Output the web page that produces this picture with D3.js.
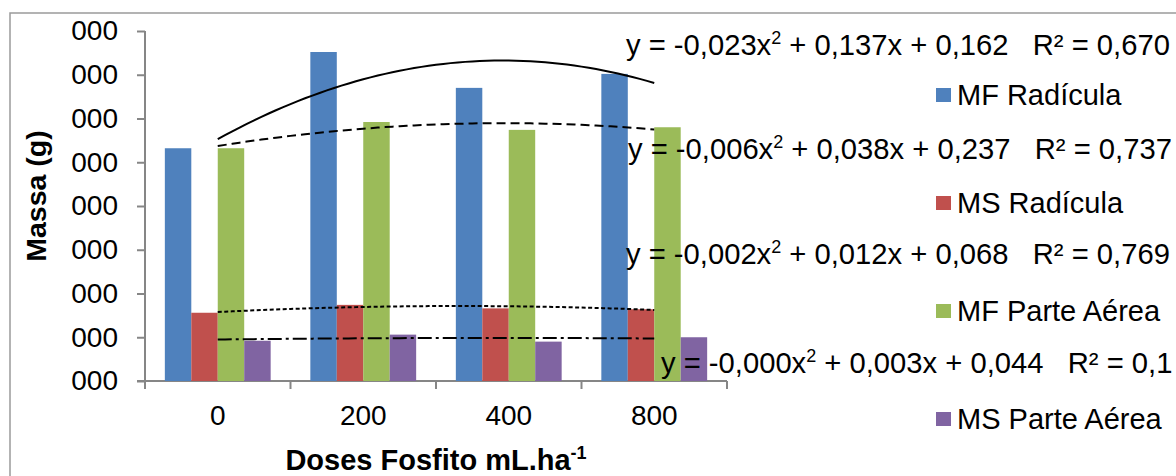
<!DOCTYPE html>
<html>
<head>
<meta charset="utf-8">
<script src="https://cdn.jsdelivr.net/npm/d3@7"></script>
<style>
  body { margin: 0; background: #fff; }
  text { font-family: Arial, "Liberation Sans", sans-serif; fill: #000; }
</style>
</head>
<body>
<div id="chart"></div>
<script>
// data
const doses = ["0", "200", "400", "800"];
const seriesNames = ["MF Radícula", "MS Radícula", "MF Parte Aérea", "MS Parte Aérea"];
const mfRadicula = [0.266, 0.376, 0.335, 0.351];
const msRadicula = [0.078, 0.087, 0.083, 0.082];
const mfAerea = [0.266, 0.296, 0.287, 0.290];
const msAerea = [0.046, 0.053, 0.045, 0.050];
const yTicks = [0, 0.05, 0.1, 0.15, 0.2, 0.25, 0.3, 0.35, 0.4];
const yTickLabels = ["000", "000", "000", "000", "000", "000", "000", "000", "000"];
// trend equation labels: [before superscript, superscript, after]
const eqMfRad = ["y = -0,023x", "2", " + 0,137x + 0,162   R² = 0,670"];
const eqMfAer = ["y = -0,006x", "2", " + 0,038x + 0,237   R² = 0,737"];
const eqMsRad = ["y = -0,002x", "2", " + 0,012x + 0,068   R² = 0,769"];
const eqMsAer = ["y = -0,000x", "2", " + 0,003x + 0,044   R² = 0,1"];

const series = [mfRadicula, msRadicula, mfAerea, msAerea];
const colors = ["#4F81BD", "#C0504D", "#9BBB59", "#8064A2"];

const W = 1176, H = 476;
const plot = {left: 145, right: 727, top: 31, bottom: 381};

const svg = d3.select("#chart").append("svg")
  .attr("width", W)
  .attr("height", H);

// chart frame
svg.append("rect")
  .attr("x", 10).attr("y", 13)
  .attr("width", 1300).attr("height", 600)
  .attr("fill", "none")
  .attr("stroke", "#9a9a9a")
  .attr("stroke-width", 1.5);

const x = d3.scaleBand().domain(doses).range([plot.left, plot.right]);
const bw = x.bandwidth() / 5.5;
const xs = d3.scaleBand().domain(seriesNames).range([0, bw * 4]);

const y = d3.scaleLinear().domain([0, 0.4]).range([plot.bottom, plot.top]);

// y axis
const yAxis = svg.append("g")
  .attr("transform", `translate(${plot.left},0)`)
  .call(d3.axisLeft(y).tickValues(yTicks).tickFormat((d, i) => yTickLabels[i])
    .tickSize(8).tickSizeOuter(0).tickPadding(19));
yAxis.selectAll("line").attr("stroke", "#868686").attr("stroke-width", 2);
yAxis.select(".domain").remove();
yAxis.selectAll("text")
  .style("font-size", "28px")
  .attr("font-family", null);

svg.append("line")
  .attr("x1", plot.left).attr("x2", plot.left)
  .attr("y1", plot.top).attr("y2", plot.bottom + 8)
  .attr("stroke", "#868686").attr("stroke-width", 2);

// x axis labels
const xAxis = svg.append("g")
  .attr("transform", `translate(0,${plot.bottom})`)
  .call(d3.axisBottom(x).tickSize(0).tickPadding(24));
xAxis.select(".domain").remove();
xAxis.selectAll("text")
  .style("font-size", "28px")
  .attr("font-family", null);

svg.append("line")
  .attr("x1", plot.left - 8).attr("x2", plot.right)
  .attr("y1", plot.bottom).attr("y2", plot.bottom)
  .attr("stroke", "#868686").attr("stroke-width", 2);

// x axis ticks sit on the category edges
svg.selectAll(".xtick")
  .data(doses.slice(1).concat(["end"]))
  .join("line")
  .attr("class", "xtick")
  .attr("x1", d => d === "end" ? plot.right : x(d))
  .attr("x2", d => d === "end" ? plot.right : x(d))
  .attr("y1", plot.bottom).attr("y2", plot.bottom + 8)
  .attr("stroke", "#868686").attr("stroke-width", 2);

// bars
seriesNames.forEach((name, si) => {
  svg.append("g")
    .selectAll("rect")
    .data(series[si])
    .join("rect")
    .attr("x", (d, i) => x(doses[i]) + bw * 0.75 + xs(name))
    .attr("y", d => y(d))
    .attr("width", xs.bandwidth())
    .attr("height", d => plot.bottom - y(d))
    .attr("fill", colors[si]);
});

// polynomial (order 2) trend lines, least squares like Excel
function quadFit(vals) {
  let s = [0, 0, 0, 0, 0], t = [0, 0, 0];
  vals.forEach((v, i) => {
    const xi = i + 1;
    for (let k = 0; k < 5; k++) s[k] += Math.pow(xi, k);
    for (let k = 0; k < 3; k++) t[k] += v * Math.pow(xi, k);
  });
  const A = [[s[0], s[1], s[2], t[0]], [s[1], s[2], s[3], t[1]], [s[2], s[3], s[4], t[2]]];
  for (let c = 0; c < 3; c++) {
    for (let r = c + 1; r < 3; r++) {
      const f = A[r][c] / A[c][c];
      for (let k = c; k < 4; k++) A[r][k] -= f * A[c][k];
    }
  }
  const sol = [0, 0, 0];
  for (let r = 2; r >= 0; r--) {
    let acc = A[r][3];
    for (let k = r + 1; k < 3; k++) acc -= A[r][k] * sol[k];
    sol[r] = acc / A[r][r];
  }
  return xv => sol[0] + sol[1] * xv + sol[2] * xv * xv;
}

const xTrend = d3.scaleLinear()
  .domain([1, 4])
  .range([x(doses[0]) + x.bandwidth() / 2, x(doses[3]) + x.bandwidth() / 2]);

const dashes = [null, "4,2.5", "9,5", "14,4,3,4"];
const samples = d3.range(1, 4.001, 0.05);
series.forEach((vals, si) => {
  const f = quadFit(vals);
  svg.append("path")
    .datum(samples)
    .attr("d", d3.line().x(d => xTrend(d)).y(d => y(f(d))))
    .attr("fill", "none")
    .attr("stroke", "#000")
    .attr("stroke-width", 2)
    .attr("stroke-dasharray", dashes[si]);
});

// equation labels
const eqs = [eqMfRad, eqMfAer, eqMsRad, eqMsAer];
const eqPos = [[626, 55], [628, 159], [626, 264], [661, 373]];
eqs.forEach((parts, i) => {
  const t = svg.append("text")
    .attr("x", eqPos[i][0]).attr("y", eqPos[i][1])
    .attr("xml:space", "preserve")
    .style("white-space", "pre")
    .style("font-size", "29.2px");
  t.append("tspan").text(parts[0]);
  t.append("tspan").attr("dy", -11).style("font-size", "18px").text(parts[1]);
  t.append("tspan").attr("dy", 11).text(parts[2]);
});

// legend
const legend = svg.append("g");
seriesNames.forEach((name, i) => {
  const ly = 105 + i * 108;
  legend.append("rect")
    .attr("x", 936).attr("y", ly - 17)
    .attr("width", 15).attr("height", 14)
    .attr("fill", colors[i]);
  legend.append("text")
    .attr("x", 957).attr("y", ly)
    .style("font-size", "29px")
    .text(name);
});

// axis titles
svg.append("text")
  .attr("transform", "translate(46,196) rotate(-90)")
  .attr("text-anchor", "middle")
  .style("font-size", "28.5px")
  .style("font-weight", "bold")
  .text("Massa (g)");

const xt = svg.append("text")
  .attr("x", 436).attr("y", 470)
  .attr("text-anchor", "middle")
  .style("font-size", "29px")
  .style("font-weight", "bold");
xt.append("tspan").text("Doses Fosfito mL.ha");
xt.append("tspan").attr("dy", -11).style("font-size", "18px").text("-1");
</script>
</body>
</html>
